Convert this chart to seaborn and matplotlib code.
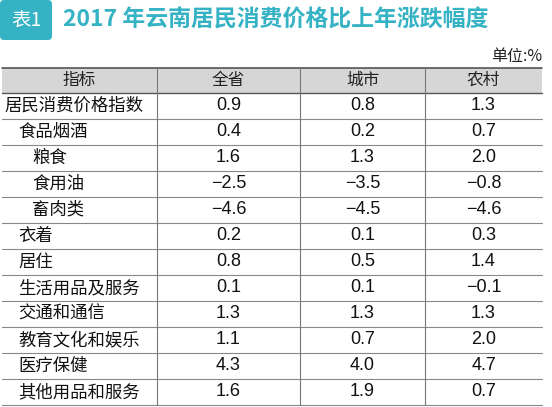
import matplotlib.pyplot as plt
import seaborn as sns
from matplotlib.patches import Rectangle, FancyBboxPatch

sns.set_theme(style='white')
plt.rcParams['font.family'] = ['Noto Sans CJK SC', 'DejaVu Sans']

title = '2017 年云南居民消费价格比上年涨跌幅度'
columns = ['指标', '全省', '城市', '农村']
items = ['居民消费价格指数', '食品烟酒', '粮食', '食用油', '畜肉类', '衣着', '居住',
         '生活用品及服务', '交通和通信', '教育文化和娱乐', '医疗保健', '其他用品和服务']
levels = [0, 1, 2, 2, 2, 1, 1, 1, 1, 1, 1, 1]
province = [0.9, 0.4, 1.6, -2.5, -4.6, 0.2, 0.8, 0.1, 1.3, 1.1, 4.3, 1.6]
city = [0.8, 0.2, 1.3, -3.5, -4.5, 0.1, 0.5, 0.1, 1.3, 0.7, 4.0, 1.9]
rural = [1.3, 0.7, 2.0, -0.8, -4.6, 0.3, 1.4, -0.1, 1.3, 2.0, 4.7, 0.7]

teal = '#35b3c4'
num_font = ['Liberation Sans', 'DejaVu Sans']
col_edges = [2, 157, 300, 425, 542]
top, head_h, row_h = 68, 25, 26.0

fig = plt.figure(figsize=(5.52, 4.07), dpi=100)
ax = fig.add_axes([0, 0, 1, 1])
ax.set_xlim(0, 552)
ax.set_ylim(407, 0)
ax.axis('off')

# badge + title
ax.add_patch(FancyBboxPatch((0, 0), 52, 40, boxstyle='round,pad=0,rounding_size=4',
                            facecolor=teal, edgecolor='none'))
ax.text(26, 21, '表1', color='white', fontsize=14, ha='center', va='center')
ax.text(63, 20, title, color=teal, fontsize=16.5, fontweight='bold', va='center')
ax.text(542, 57, '单位:%', fontsize=11.5, ha='right', va='center', color='#222222')

# header
ax.add_patch(Rectangle((col_edges[0], top), col_edges[-1] - col_edges[0], head_h,
                       facecolor='#d6d6d6', edgecolor='none'))
for i, c in enumerate(columns):
    ax.text((col_edges[i] + col_edges[i + 1]) / 2, top + head_h / 2, c,
            fontsize=12, ha='center', va='center', color='#222222')

y0 = top + head_h
n = len(items)
bottom = y0 + n * row_h
def fmt(v):
    return f'{v:.1f}'.replace('-', '−')

for r in range(n):
    yc = y0 + (r + 0.5) * row_h
    ax.text(col_edges[0] + 2 + levels[r] * 14, yc, items[r], fontsize=12.5,
            va='center', color='#111111')
    for j, vals in enumerate([province, city, rural]):
        ax.text((col_edges[j + 1] + col_edges[j + 2]) / 2, yc, fmt(vals[r]),
                fontsize=13, family=num_font, ha='center', va='center', color='#111111')
    ax.plot([col_edges[0], col_edges[-1]], [y0 + (r + 1) * row_h] * 2,
            color='#888888', lw=0.8)

ax.plot([col_edges[0], col_edges[-1]], [top, top], color='#555555', lw=1.2)
ax.plot([col_edges[0], col_edges[-1]], [y0, y0], color='#555555', lw=1.0)
for x in col_edges[1:-1]:
    ax.plot([x, x], [top, bottom], color='#777777', lw=0.8)

fig.savefig('out.png', dpi=100, facecolor='white')
